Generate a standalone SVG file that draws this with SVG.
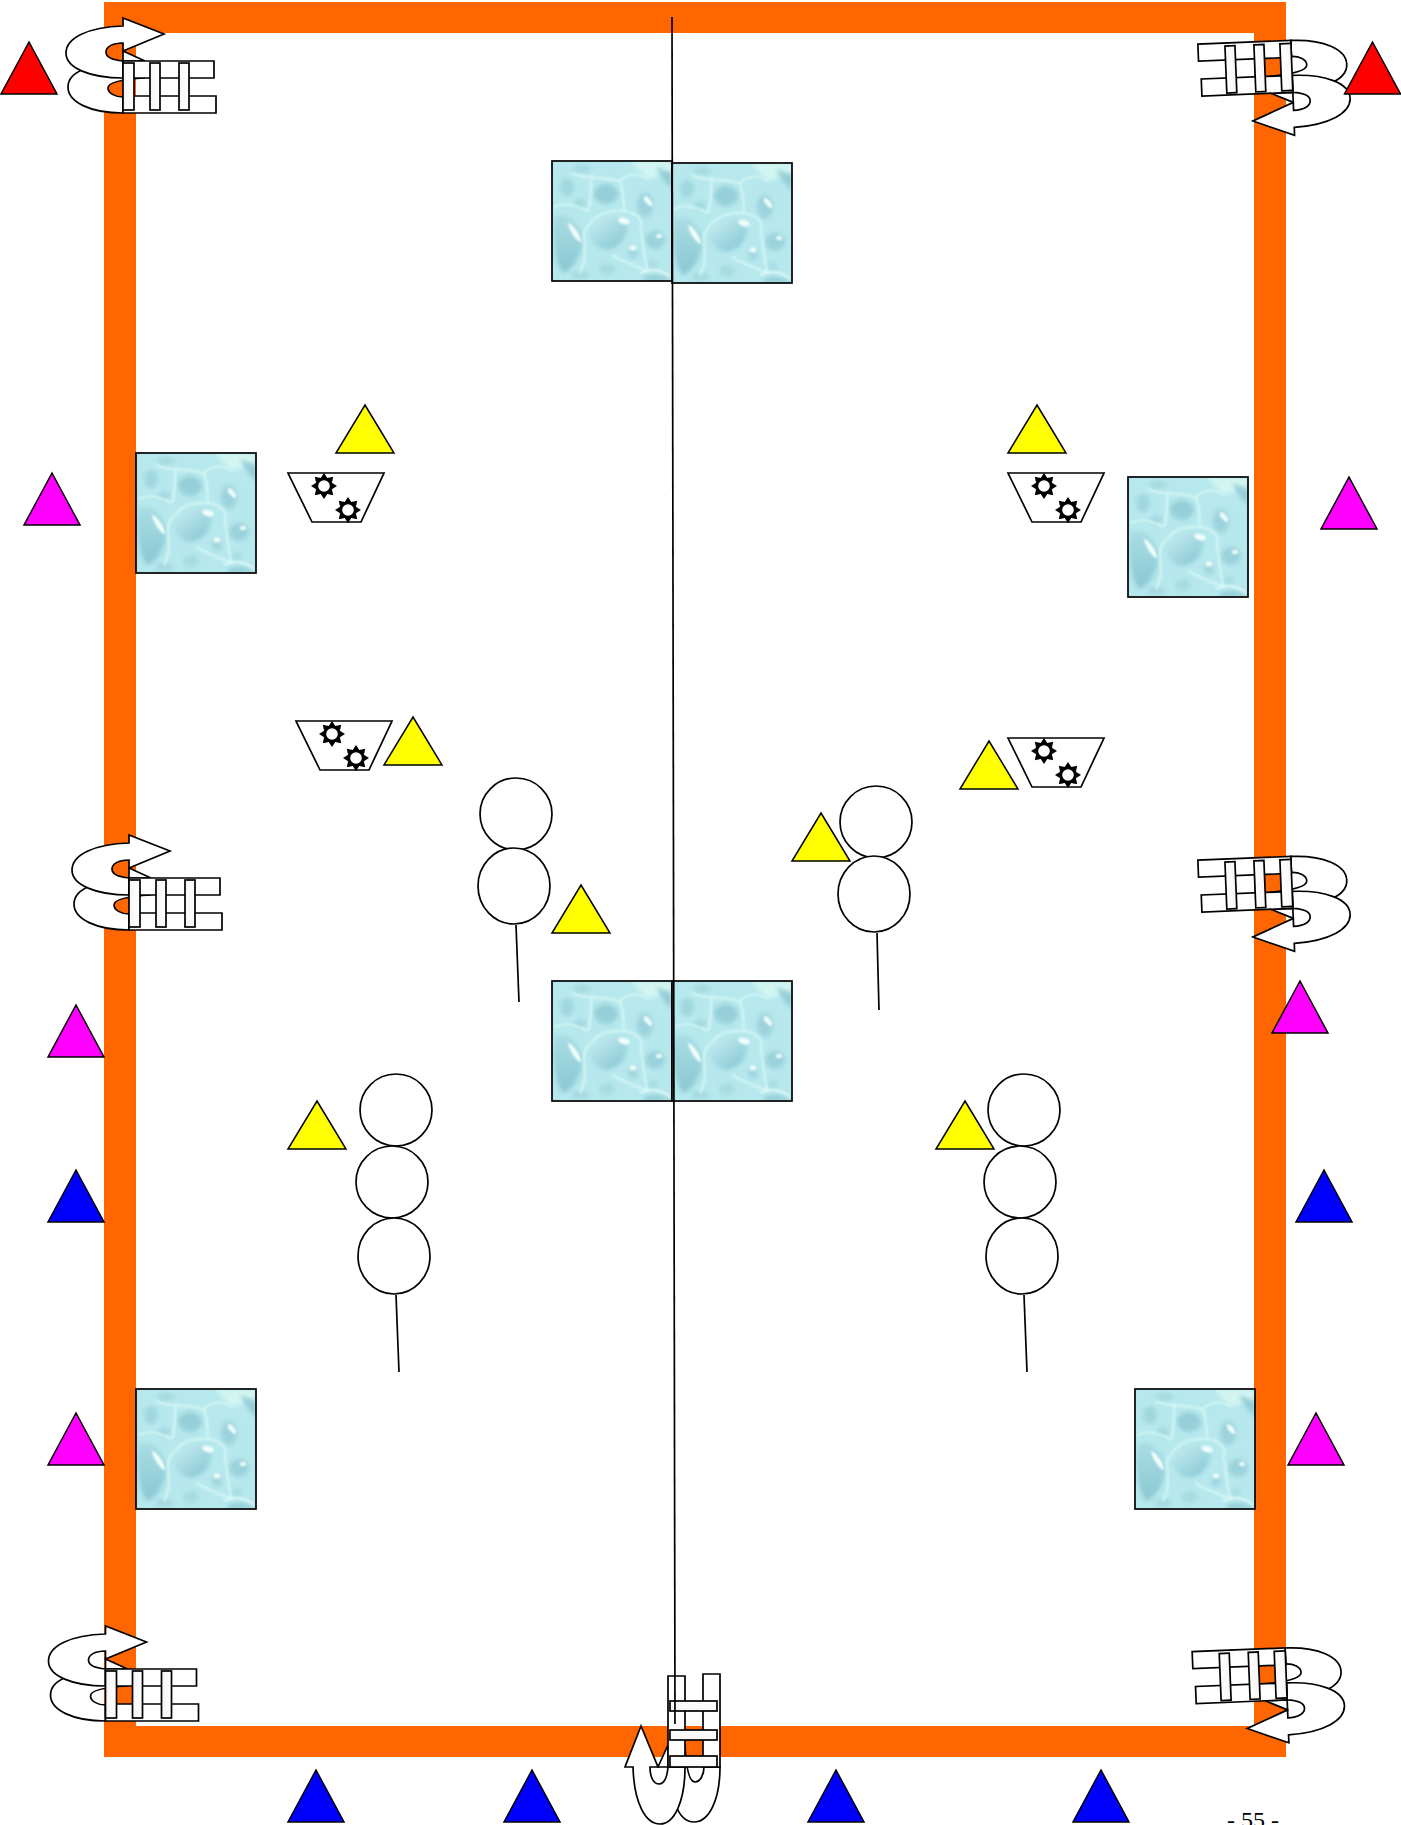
<svg xmlns="http://www.w3.org/2000/svg" width="1401" height="1825" viewBox="0 0 1401 1825">
<style>
.ln{stroke:#000;stroke-width:1.7;fill:none}
.wt{stroke:#000;stroke-width:1.7;fill:#fff;stroke-linejoin:miter}
.tri{stroke:#000;stroke-width:1.5;stroke-linejoin:miter}
.r{fill:#ff0000}.m{fill:#ff00ff}.b{fill:#0000ff}.y{fill:#ffff00}
.rung{fill:url(#rg);stroke:#000;stroke-width:1.7}
.frameT{font-family:"Liberation Serif","Times New Roman",serif;font-size:24px;fill:#000}
</style>
<defs>
<linearGradient id="rg" x1="0" y1="0" x2="1" y2="0"><stop offset="0" stop-color="#f6f6f6"/><stop offset="1" stop-color="#fff"/></linearGradient>
<linearGradient id="dropA" x1="0.1" y1="0.1" x2="0.8" y2="0.9"><stop offset="0" stop-color="#c2ecef"/><stop offset="1" stop-color="#8ccad6"/></linearGradient>
<linearGradient id="dropB" x1="0.5" y1="0" x2="0.5" y2="1"><stop offset="0" stop-color="#a9dde4"/><stop offset="1" stop-color="#8ac7d2"/></linearGradient>
<filter id="bl" x="-10%" y="-10%" width="120%" height="120%"><feGaussianBlur stdDeviation="2"/></filter>
<filter id="bs" x="-30%" y="-30%" width="160%" height="160%"><feGaussianBlur stdDeviation="0.9"/></filter>
<clipPath id="tc"><rect width="120" height="120"/></clipPath>
<g id="water">
<g clip-path="url(#tc)">
<rect width="120" height="120" fill="#b6e8ed"/>
<g filter="url(#bl)">
<path d="M78 0H120V10L96 18Z" fill="#d2f5f2"/>
<path d="M104 6L120 12V28C112 20 108 14 104 6Z" fill="#93cdd6"/>
<ellipse cx="54" cy="33" rx="12" ry="10" fill="#96cfd9"/>
<ellipse cx="30" cy="8" rx="9" ry="4" fill="#a4dae1"/>
<ellipse cx="15" cy="26" rx="7" ry="9" fill="#a0d7df"/>
<ellipse cx="28" cy="43" rx="6" ry="5" fill="#a3d9e0"/>
<ellipse cx="93" cy="44" rx="8" ry="12" fill="#9cd3dc"/>
<path d="M37 72C42 58 58 52 72 58C78 64 74 78 66 84C56 92 42 90 37 72Z" fill="url(#dropA)"/>
<path d="M2 56C14 50 24 58 30 74C32 86 26 104 12 112C4 108 0 80 2 56Z" fill="url(#dropB)"/>
<ellipse cx="103" cy="79" rx="10" ry="9" fill="#9bd3dc"/>
<ellipse cx="81" cy="92" rx="5" ry="6" fill="#a1d7df"/>
<ellipse cx="55" cy="108" rx="8" ry="6" fill="#a6dce3"/>
<ellipse cx="28" cy="114" rx="9" ry="4" fill="#a5dae1"/>
<ellipse cx="100" cy="104" rx="6" ry="5" fill="#a9dde4"/>
<path d="M92 116C102 112 112 114 120 120H92Z" fill="#93cdd6"/>
</g>
<g filter="url(#bs)" fill="none" stroke="#d3f6f5" stroke-width="2.2">
<path d="M32 72C38 58 52 48 72 50C84 52 90 58 90 66"/>
<path d="M32 72C32 88 36 96 28 112"/>
<path d="M40 14C38 24 40 40 36 50M68 20C72 34 72 44 72 50M20 12C30 18 40 14 68 20C74 14 84 10 96 18"/>
<path d="M2 46C12 40 24 44 36 50M88 66C92 78 90 92 96 110M60 94C70 100 80 104 96 110"/>
</g>
<g filter="url(#bs)" fill="#f2fdfc">
<path d="M16 62C21 63 29 74 29 81C25 81 17 70 16 62Z"/>
<ellipse cx="72" cy="60" rx="6" ry="3.200" transform="rotate(15 72 60)"/>
<ellipse cx="96" cy="40" rx="2.500" ry="6" transform="rotate(-40 96 40)"/>
<ellipse cx="81" cy="87" rx="3.500" ry="2.500"/>
<ellipse cx="107" cy="75" rx="3" ry="2"/>
<path d="M88 112C100 106 112 110 118 116" fill="none" stroke="#e2f9f8" stroke-width="2"/>
</g>
</g>
<rect width="120" height="120" class="ln"/>
</g>
<g id="star"><path d="M13 0L7.9 3.3 9.2 9.2 3.3 7.9 0 13-3.3 7.9-9.2 9.2-7.9 3.3-13 0-7.9-3.3-9.2-9.2-3.3-7.9 0-13 3.3-7.9 9.2-9.2 7.9-3.3Z" fill="#000"/><circle r="5.800" fill="#fff"/></g>
<g id="basket"><path d="M288 473H384L361 522H312Z" class="wt"/><use href="#star" x="324" y="486"/><use href="#star" x="348" y="510"/></g>
<path id="tri" d="M28 0L56 52H0Z" class="tri"/>
<path id="tri58" d="M29 0L58 48H0Z" class="tri"/>
<g id="arrow">
<path d="M123 113C90 113 68 102 68 87C68 79 74 73 84 69L145 78C125 79 108 82 108 88C108 93 115 97 123 97Z" class="wt"/>
<path d="M123 51L145 61H123Z" class="wt"/>
<path d="M164 34L123 18V26C88 27 66 38 66 53C66 68 90 78 123 78V61C112 60 106 57 106 52C106 47 112 43 123 43V51Z" class="wt"/>
<path d="M123 61H214V78H123Z" class="wt"/>
<path d="M123 96H216V113H123Z" class="wt"/>
<rect x="123" y="63" width="11" height="47" class="rung"/>
<rect x="150" y="63" width="10" height="47" class="rung"/>
<rect x="179" y="63" width="10" height="47" class="rung"/>
</g>
</defs>
<rect width="1401" height="1825" fill="#fff"/>
<path id="frame" d="M104 2H1286V1757H104ZM136 33V1726H1254V33Z" fill="#ff6600" fill-rule="evenodd"/>
<g id="tile-top-l"><use href="#water" x="552" y="161"/></g>
<g id="tile-top-r"><use href="#water" x="672" y="163"/></g>
<g id="tile-left-1"><use href="#water" x="136" y="453"/></g>
<g id="tile-right-1"><use href="#water" x="1128" y="477"/></g>
<g id="tile-mid-l"><use href="#water" x="552" y="981"/></g>
<g id="tile-mid-r"><use href="#water" x="672" y="981"/></g>
<g id="tile-left-2"><use href="#water" x="136" y="1389"/></g>
<g id="tile-right-2"><use href="#water" x="1135" y="1389"/></g>
<g id="arrow-tl"><use href="#arrow"/></g>
<g id="arrow-ml"><use href="#arrow" transform="translate(6 817)"/></g>
<g id="arrow-bl"><use href="#arrow" transform="translate(-17.5 1608)"/></g>
<g id="arrow-tr"><use href="#arrow" transform="matrix(-.9992 .0401 -.0401 -.9992 1418.2 148.4)"/></g>
<g id="arrow-mr"><use href="#arrow" transform="matrix(-.9992 .0401 -.0401 -.9992 1418.2 964.4)"/></g>
<g id="arrow-br"><use href="#arrow" transform="matrix(-.9992 .0401 -.0401 -.9992 1412.5 1755.9)"/></g>
<g id="arrow-bc"><use href="#arrow" transform="matrix(0 -1 1 0 607 1890)"/></g>
<g id="basket-1"><use href="#basket"/></g>
<g id="basket-2"><use href="#basket" x="8" y="248"/></g>
<g id="basket-3"><use href="#basket" x="720"/></g>
<g id="basket-4"><use href="#basket" x="720" y="265"/></g>
<g id="cone-red-l"><use href="#tri" x="1" y="42" class="r"/></g>
<g id="cone-red-r"><use href="#tri" x="1344.500" y="42" class="r"/></g>
<g id="cone-m1"><use href="#tri" x="24" y="473" class="m"/></g>
<g id="cone-m2"><use href="#tri" x="1321" y="477" class="m"/></g>
<g id="cone-m3"><use href="#tri" x="48" y="1005" class="m"/></g>
<g id="cone-m4"><use href="#tri" x="1272" y="981" class="m"/></g>
<g id="cone-m5"><use href="#tri" x="48" y="1413" class="m"/></g>
<g id="cone-m6"><use href="#tri" x="1288" y="1413" class="m"/></g>
<g id="cone-b1"><use href="#tri" x="48" y="1170" class="b"/></g>
<g id="cone-b2"><use href="#tri" x="1296" y="1170" class="b"/></g>
<g id="cone-b3"><use href="#tri" x="288" y="1770" class="b"/></g>
<g id="cone-b4"><use href="#tri" x="504" y="1770" class="b"/></g>
<g id="cone-b5"><use href="#tri" x="808" y="1770" class="b"/></g>
<g id="cone-b6"><use href="#tri" x="1073" y="1770" class="b"/></g>
<g id="cone-y1"><use href="#tri58" x="336" y="405" class="y"/></g>
<g id="cone-y2"><use href="#tri58" x="1008" y="405" class="y"/></g>
<g id="cone-y3"><use href="#tri58" x="384" y="717" class="y"/></g>
<g id="cone-y4"><use href="#tri58" x="960" y="741" class="y"/></g>
<g id="cone-y5"><use href="#tri58" x="552" y="885" class="y"/></g>
<g id="cone-y6"><use href="#tri58" x="792" y="813" class="y"/></g>
<g id="cone-y7"><use href="#tri58" x="288" y="1101" class="y"/></g>
<g id="cone-y8"><use href="#tri58" x="936" y="1101" class="y"/></g>
<g id="player-1"><circle cx="516" cy="814" r="36" class="wt"/><ellipse cx="514" cy="886" rx="36" ry="38" class="wt"/></g>
<g id="player-2"><circle cx="876" cy="822" r="36" class="wt"/><ellipse cx="874" cy="894" rx="36" ry="38" class="wt"/></g>
<g id="player-3"><circle cx="396" cy="1110" r="36" class="wt"/><circle cx="392" cy="1182" r="36" class="wt"/><ellipse cx="394" cy="1256" rx="36" ry="38" class="wt"/></g>
<g id="player-4"><circle cx="1024" cy="1110" r="36" class="wt"/><circle cx="1020" cy="1182" r="36" class="wt"/><ellipse cx="1022" cy="1256" rx="36" ry="38" class="wt"/></g>
<g id="connectors">
<path d="M672 17L675 1724" class="ln"/>
<path d="M516 925L519 1002" class="ln"/>
<path d="M877 933L879 1010" class="ln"/>
<path d="M396 1295L399 1372" class="ln"/>
<path d="M1024 1295L1027 1372" class="ln"/>
</g>
<text id="page" x="1253" y="1828" text-anchor="middle" class="frameT">- 55 -</text>
</svg>
